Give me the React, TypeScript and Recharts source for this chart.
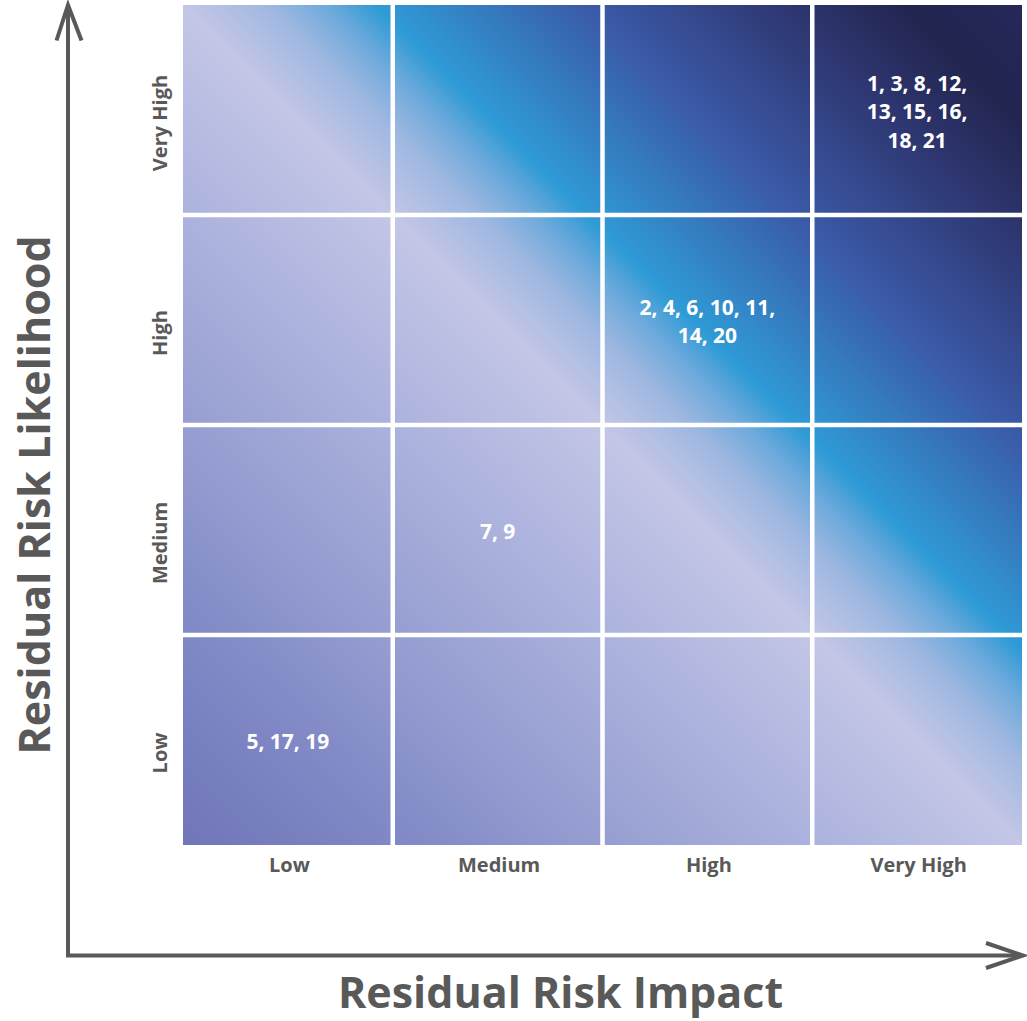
import {
  Label,
  ReferenceArea,
  ReferenceLine,
  Scatter,
  ScatterChart,
  XAxis,
  YAxis,
} from 'recharts'

// 轴分类（从下到上 / 从左到右）
const impactLevels = ['Low', 'Medium', 'High', 'Very High']
const likelihoodLevels = ['Low', 'Medium', 'High', 'Very High']

// 每个格子里的风险编号，每个内层数组是一行
const riskCells = [
  { impact: 'Low', likelihood: 'Low', lines: [[5, 17, 19]] },
  { impact: 'Medium', likelihood: 'Medium', lines: [[7, 9]] },
  { impact: 'High', likelihood: 'High', lines: [[2, 4, 6, 10, 11], [14, 20]] },
  {
    impact: 'Very High',
    likelihood: 'Very High',
    lines: [[1, 3, 8, 12], [13, 15, 16], [18, 21]],
  },
]

const WIDTH = 1027
const HEIGHT = 1021
const PLOT = { left: 183, right: 1022, top: 5, bottom: 845 }
const INK = '#595959'
const FONT = '"Open Sans", "DejaVu Sans", sans-serif'

// 整个矩阵共用一条对角渐变（左下 → 右上）
const gradientStops = [
  { offset: 0, color: '#7076b8' },
  { offset: 0.125, color: '#7f87c5' },
  { offset: 0.25, color: '#969ed1' },
  { offset: 0.375, color: '#abb2dd' },
  { offset: 0.5, color: '#c3c6e6' },
  { offset: 0.55, color: '#a0b8e1' },
  { offset: 0.585, color: '#6eaadc' },
  { offset: 0.615, color: '#2f9bd6' },
  { offset: 0.74, color: '#3b5aa8' },
  { offset: 0.86, color: '#2e3670' },
  { offset: 0.93, color: '#22254f' },
  { offset: 1, color: '#25285a' },
]

const gridCells = impactLevels.flatMap((_, i) =>
  likelihoodLevels.map((__, j) => ({ i, j })),
)

const labelData = riskCells.map((c) => ({
  x: impactLevels.indexOf(c.impact) + 0.5,
  y: likelihoodLevels.indexOf(c.likelihood) + 0.5,
  lines: c.lines,
}))

const centerTicks = impactLevels.map((_, i) => i + 0.5)

function CellLabel(props: any) {
  const { cx, cy, payload } = props
  const rows: string[] = payload.lines.map(
    (ids: number[], k: number) =>
      ids.join(', ') + (k < payload.lines.length - 1 ? ',' : ''),
  )
  const lh = 28.5
  const y0 = cy + 1 - ((rows.length - 1) * lh) / 2
  return (
    <text
      textAnchor="middle"
      dominantBaseline="central"
      fill="#ffffff"
      fontFamily={FONT}
      fontWeight={700}
      fontSize={21}
    >
      {rows.map((r, k) => (
        <tspan key={k} x={cx} y={y0 + k * lh}>
          {r}
        </tspan>
      ))}
    </text>
  )
}

function ImpactTick({ x, y, payload }: any) {
  return (
    <text
      x={x + 1.5}
      y={y + 11}
      textAnchor="middle"
      dominantBaseline="central"
      fill={INK}
      fontFamily={FONT}
      fontWeight={700}
      fontSize={20}
    >
      {impactLevels[Math.floor(payload.value)]}
    </text>
  )
}

function LikelihoodTick({ x, y, payload }: any) {
  const tx = x - 16
  const ty = y + 13
  return (
    <text
      x={tx}
      y={ty}
      transform={`rotate(-90, ${tx}, ${ty})`}
      textAnchor="middle"
      dominantBaseline="central"
      fill={INK}
      fontFamily={FONT}
      fontWeight={700}
      fontSize={20}
    >
      {likelihoodLevels[Math.floor(payload.value)]}
    </text>
  )
}

function XTitle({ viewBox }: any) {
  const x = viewBox.x + viewBox.width / 2 - 42
  const y = viewBox.y + viewBox.height - 13
  return (
    <text
      x={x}
      y={y}
      textAnchor="middle"
      fill={INK}
      fontFamily={FONT}
      fontWeight={700}
      fontSize={43}
    >
      Residual Risk Impact
    </text>
  )
}

function YTitle({ viewBox }: any) {
  const x = viewBox.x + 50
  const y = viewBox.y + viewBox.height / 2 + 70
  return (
    <text
      x={x}
      y={y}
      transform={`rotate(-90, ${x}, ${y})`}
      textAnchor="middle"
      fill={INK}
      fontFamily={FONT}
      fontWeight={700}
      fontSize={43}
    >
      Residual Risk Likelihood
    </text>
  )
}

export default function App() {
  return (
    <div
      style={{
        position: 'absolute',
        left: 0,
        top: 0,
        width: WIDTH,
        height: HEIGHT,
        background: '#ffffff',
      }}
    >
      <ScatterChart
        width={WIDTH}
        height={HEIGHT}
        margin={{ top: PLOT.top, right: WIDTH - PLOT.right, bottom: 0, left: 0 }}
      >
        <defs>
          <linearGradient
            id="riskGradient"
            gradientUnits="userSpaceOnUse"
            x1={PLOT.left}
            y1={PLOT.bottom}
            x2={PLOT.right}
            y2={PLOT.top}
          >
            {gradientStops.map((s) => (
              <stop key={s.offset} offset={s.offset} stopColor={s.color} />
            ))}
          </linearGradient>
        </defs>
        <XAxis
          type="number"
          dataKey="x"
          domain={[0, impactLevels.length]}
          ticks={centerTicks}
          tick={<ImpactTick />}
          tickLine={false}
          axisLine={false}
          height={HEIGHT - PLOT.bottom}
          interval={0}
        >
          <Label content={<XTitle />} />
        </XAxis>
        <YAxis
          type="number"
          dataKey="y"
          domain={[0, likelihoodLevels.length]}
          ticks={centerTicks}
          tick={<LikelihoodTick />}
          tickLine={false}
          axisLine={false}
          width={PLOT.left}
          interval={0}
        >
          <Label content={<YTitle />} />
        </YAxis>
        {gridCells.map(({ i, j }) => (
          <ReferenceArea
            key={`${i}-${j}`}
            x1={i}
            x2={i + 1}
            y1={j}
            y2={j + 1}
            fill="url(#riskGradient)"
            fillOpacity={1}
            stroke="none"
          />
        ))}
        {impactLevels.slice(1).map((_, i) => (
          <ReferenceLine
            key={`vx${i}`}
            x={i + 1}
            stroke="#ffffff"
            strokeWidth={4.5}
          />
        ))}
        {likelihoodLevels.slice(1).map((_, j) => (
          <ReferenceLine
            key={`hy${j}`}
            y={j + 1}
            stroke="#ffffff"
            strokeWidth={4.5}
          />
        ))}
        <Scatter data={labelData} shape={<CellLabel />} isAnimationActive={false} />
      </ScatterChart>
      {/* 坐标箭头 */}
      <svg
        width={WIDTH}
        height={HEIGHT}
        style={{ position: 'absolute', left: 0, top: 0, pointerEvents: 'none' }}
      >
        <path
          d="M68 6 L68 955.5 L1022 955.5"
          fill="none"
          stroke={INK}
          strokeWidth={4}
          strokeLinejoin="miter"
        />
        <path
          d="M56.5 40.5 L68 5 L81.5 40.5"
          fill="none"
          stroke={INK}
          strokeWidth={4}
        />
        <path
          d="M986 943 L1023 955.5 L986 968"
          fill="none"
          stroke={INK}
          strokeWidth={4}
        />
      </svg>
    </div>
  )
}
